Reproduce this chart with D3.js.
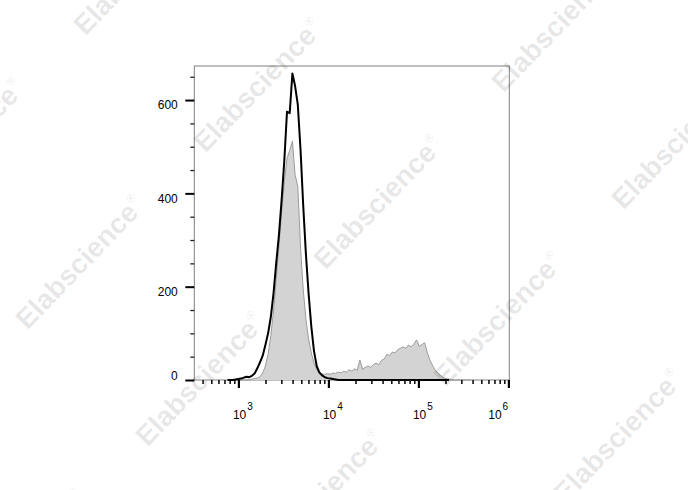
<!DOCTYPE html>
<html><head><meta charset="utf-8">
<script src="https://cdn.jsdelivr.net/npm/d3@7/dist/d3.min.js"></script>
<style>body{margin:0;background:#fff}svg{display:block}</style>
</head><body>
<svg id="chart" width="688" height="490"></svg>
<script>
// log10 of fluorescence intensity at each histogram bin
const binLog = [
  2.88,2.91,2.94,2.97,3.00,3.03,3.06,3.09,3.12,3.15,
  3.18,3.21,3.24,3.27,3.30,3.33,3.36,3.39,3.42,3.45,
  3.48,3.51,3.54,3.57,3.60,3.63,3.66,3.69,3.72,3.75,
  3.78,3.81,3.84,3.87,3.90,3.93,3.96,3.99,4.02,4.05,
  4.08,4.11,4.14,4.17,4.20,4.23,4.26,4.29,4.32,4.35,
  4.38,4.41,4.44,4.47,4.50,4.53,4.56,4.59,4.62,4.65,
  4.68,4.71,4.74,4.77,4.80,4.83,4.86,4.89,4.92,4.95,
  4.98,5.01,5.04,5.07,5.10,5.13,5.16,5.19,5.22,5.25,
  5.28,5.31,5.34,5.37,5.40,5.43,5.46,5.49,5.52,5.55,
  5.58
];
// unstained control (black outline)
const controlCounts = [
  0,0,0,1,2,3,5,7,6,9,
  14,25,38,52,75,100,135,185,250,310,
  385,470,575,572,657,630,590,495,375,270,
  185,115,62,30,16,10,6,4,3,2,
  1,0,0,0,0,0,0,0,0,0,
  0,0,0,0,0,0,0,0,0,0,
  0,0,0,0,0,0,0,0,0,0,
  0,0,0,0,0,0,0,0,0,0,
  0,0,0
];
// stained sample (grey filled)
const stainedCounts = [
  0,0,0,0,0,0,0,0,0,2,
  3,4,7,15,30,55,95,148,215,285,
  360,425,475,492,512,440,415,285,195,130,
  88,58,36,22,15,13,12,14,12,15,
  14,17,15,19,17,22,19,24,21,43,
  23,27,30,27,33,36,33,42,45,55,
  52,60,58,65,68,71,68,75,71,77,
  86,72,76,80,58,42,30,20,14,9,
  5,3,2,1,0,0,0,0,0,0,
  0
];
const yMajorTicks = [0, 200, 400, 600];
const yMinorTicks = [50, 100, 150, 250, 300, 350, 450, 500, 550, 650];
const xDecades = [3, 4, 5, 6];
const xMinorMultipliers = [2, 3, 4, 5, 6, 7, 8, 9];
const watermarkText = "Elabscience";

const svg = d3.select("#chart");
const L = 194.3, R = 509.3, T = 66, B = 380;
const x = d3.scaleLog().domain([Math.pow(10, 2.51), Math.pow(10, 6.01)]).range([L, R]);
const y = d3.scaleLinear().domain([0, 673]).range([B, T]);
const FONT = "Arial, 'Liberation Sans', sans-serif";

// frame
svg.append("rect").attr("x", L).attr("y", T).attr("width", R - L).attr("height", B - T)
  .attr("fill", "none").attr("stroke", "#808080").attr("stroke-width", 1);

// histograms
const stained = binLog.map((b, i) => ({v: Math.pow(10, b), c: stainedCounts[i]}));
const control = controlCounts.map((c, i) => ({v: Math.pow(10, binLog[i]), c}));
const area = d3.area().x(d => x(d.v)).y0(y(0)).y1(d => y(d.c));
const line = d3.line().x(d => x(d.v)).y(d => y(d.c));
svg.append("path").datum(stained).attr("d", area).attr("fill", "#d3d3d3");
svg.append("path").datum(stained).attr("d", line).attr("fill", "none")
  .attr("stroke", "#9c9c9c").attr("stroke-width", 1);
svg.append("path").datum(control).attr("d", line).attr("fill", "none")
  .attr("stroke", "#000").attr("stroke-width", 2).attr("stroke-linejoin", "round");

// y axis
const yMajor = svg.append("g").attr("transform", `translate(${L},0)`)
  .call(d3.axisLeft(y).tickValues(yMajorTicks).tickSize(9).tickPadding(7.5).tickFormat(d3.format("d")));
yMajor.select(".domain").remove();
yMajor.selectAll("line").attr("stroke", "#000").attr("stroke-width", 2);
yMajor.selectAll("text").attr("font-family", FONT)
  .attr("font-size", 12).attr("fill", "#000")
  .attr("dy", d => d === 0 ? "-0.08em" : "0.72em");
const yMinor = svg.append("g").attr("transform", `translate(${L},0)`)
  .call(d3.axisLeft(y).tickValues(yMinorTicks).tickSize(4).tickFormat(""));
yMinor.select(".domain").remove();
yMinor.selectAll("line").attr("stroke", "#222").attr("stroke-width", 1.3);

// x axis
const xMinorVals = [];
[2, 3, 4, 5].forEach(d => xMinorMultipliers.forEach(m => {
  const v = m * Math.pow(10, d);
  if (v >= x.domain()[0] && v <= x.domain()[1]) xMinorVals.push(v);
}));
const xMin = svg.append("g").attr("transform", `translate(0,${B})`)
  .call(d3.axisBottom(x).tickValues(xMinorVals).tickSize(4).tickFormat(""));
xMin.select(".domain").remove();
xMin.selectAll("line").attr("stroke", "#111").attr("stroke-width", 1.6);
const xMaj = svg.append("g").attr("transform", `translate(0,${B})`)
  .call(d3.axisBottom(x).tickValues(xDecades.map(d => Math.pow(10, d))).tickSize(8).tickFormat(""));
xMaj.select(".domain").remove();
xMaj.selectAll("line").attr("stroke", "#000").attr("stroke-width", 2.2);
const xl = svg.append("g").attr("font-family", FONT).attr("fill", "#000");
xDecades.forEach((d, i) => {
  const px = x(Math.pow(10, d)) + (i === xDecades.length - 1 ? -13.5 : 1.2);
  xl.append("text").attr("x", px).attr("y", 418.5).attr("text-anchor", "middle")
    .attr("font-size", 12).text("10");
  xl.append("text").attr("x", px + 7.6).attr("y", 410.3).attr("font-size", 10).text(String(d));
});

// watermarks
const wm = svg.append("g").attr("fill", "#000").attr("fill-opacity", 0.1)
  .attr("font-family", FONT).attr("font-weight", "bold");
for (let m = -3; m <= 5; m++) for (let n = -3; n <= 4; n++) {
  const cx = 258 + m * 120 + n * 178, cy = 85 + m * 117 - n * 177;
  if (cx < -120 || cx > 810 || cy < -120 || cy > 610) continue;
  const t = wm.append("text").attr("transform", `translate(${cx},${cy}) rotate(-46)`)
    .attr("text-anchor", "middle").attr("dy", "0.35em").attr("font-size", 28);
  t.append("tspan").text(watermarkText);
  t.append("tspan").attr("font-size", 12).attr("font-weight", "normal").attr("dy", "-1.1em").attr("dx", "1").text("®");
}
</script>
</body></html>
